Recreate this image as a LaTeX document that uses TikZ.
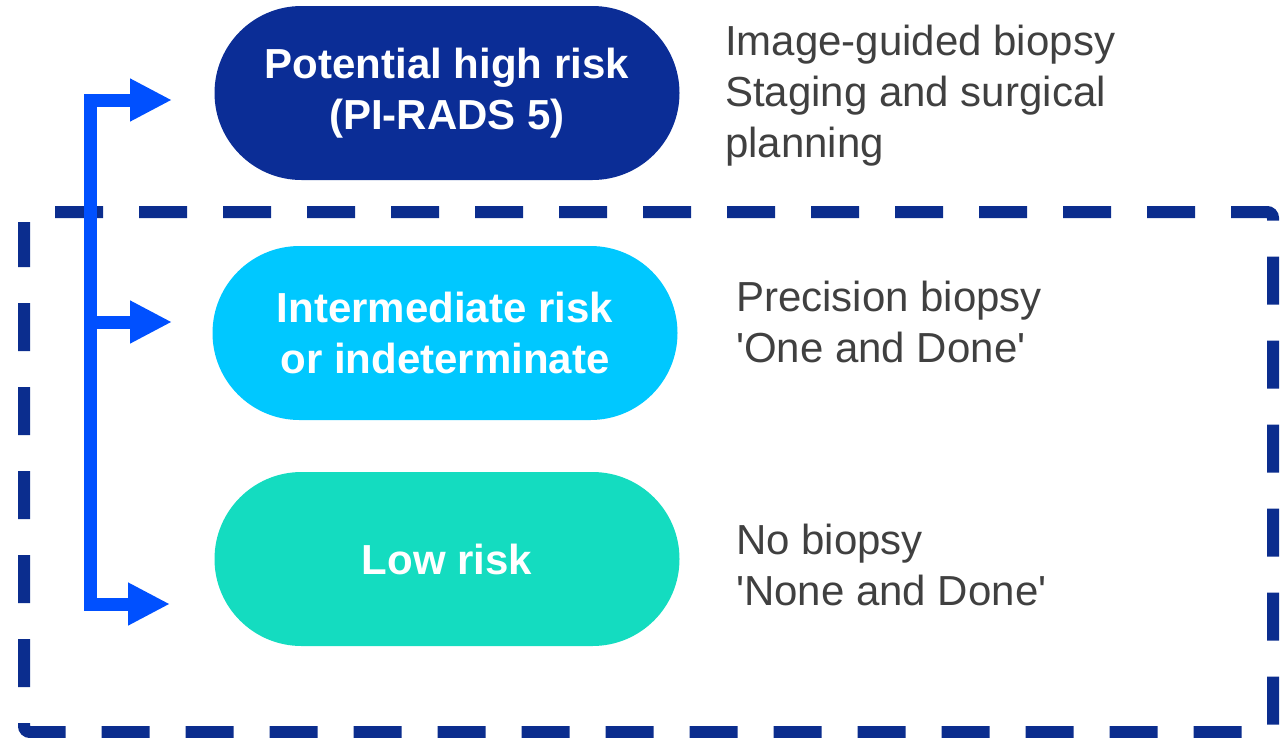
\documentclass[tikz,border=0pt]{standalone}
\usepackage{fontspec}
\setmainfont{Liberation Sans}
\usetikzlibrary{arrows.meta}
\definecolor{navy}{HTML}{0B2D96}
\definecolor{dashnavy}{HTML}{0B2D8E}
\definecolor{cyanpill}{HTML}{00C8FF}
\definecolor{tealpill}{HTML}{14DCC0}
\definecolor{arrowblue}{HTML}{0050FF}
\definecolor{textgray}{HTML}{404040}
\tikzset{
  pill/.style={rectangle, rounded corners=87pt, minimum width=465pt, minimum height=174pt,
    inner sep=0pt, text=white, align=center, font=\fontsize{42}{51}\selectfont\bfseries},
  note/.style={anchor=west, inner sep=0pt, align=left, text=textgray,
    font=\fontsize{42}{51}\selectfont},
  flow/.style={draw=arrowblue, line width=13pt, miter limit=10,
    -{Triangle[length=42pt,width=40pt]}},
  region/.style={draw=dashnavy, line width=12pt, dash pattern=on 48pt off 36pt,
    rounded corners=6pt}
}
\begin{document}
\begin{tikzpicture}[x=1pt,y=-1pt]
\useasboundingbox (0,0) rectangle (1288,737);
% dashed region
\draw[region] (55,212) -- (1273,212) -- (1273,732) -- (24,732) -- (24,222);
% pills
\node[pill, fill=navy] (p1) at (447,93) {Potential high risk\\(PI-RADS 5)};
\node[pill, fill=cyanpill] (p2) at (445,333) {Intermediate risk\\or indeterminate};
\node[pill, fill=tealpill] (p3) at (447,559) {Low risk};
% notes
\node[note] (n1) at (725,96) {Image-guided biopsy\\Staging and surgical\\planning};
\node[note] (n2) at (736,322) {Precision biopsy\\\textquotesingle One and Done\textquotesingle};
\node[note] (n3) at (736,565) {No biopsy\\\textquotesingle None and Done\textquotesingle};
% arrows
\coordinate (s1) at (90,100);
\coordinate (t1) at (172,100);
\coordinate (s2) at (90,322);
\coordinate (t2) at (172,322);
\coordinate (s3) at (90,604);
\coordinate (t3) at (170,604);
\draw[flow, {Triangle[length=42pt,width=40pt]}-{Triangle[length=42pt,width=40pt]}] (t1) -- (s1) -- (s3) -- (t3);
\draw[flow] (s2) -- (t2);
\end{tikzpicture}
\end{document}
